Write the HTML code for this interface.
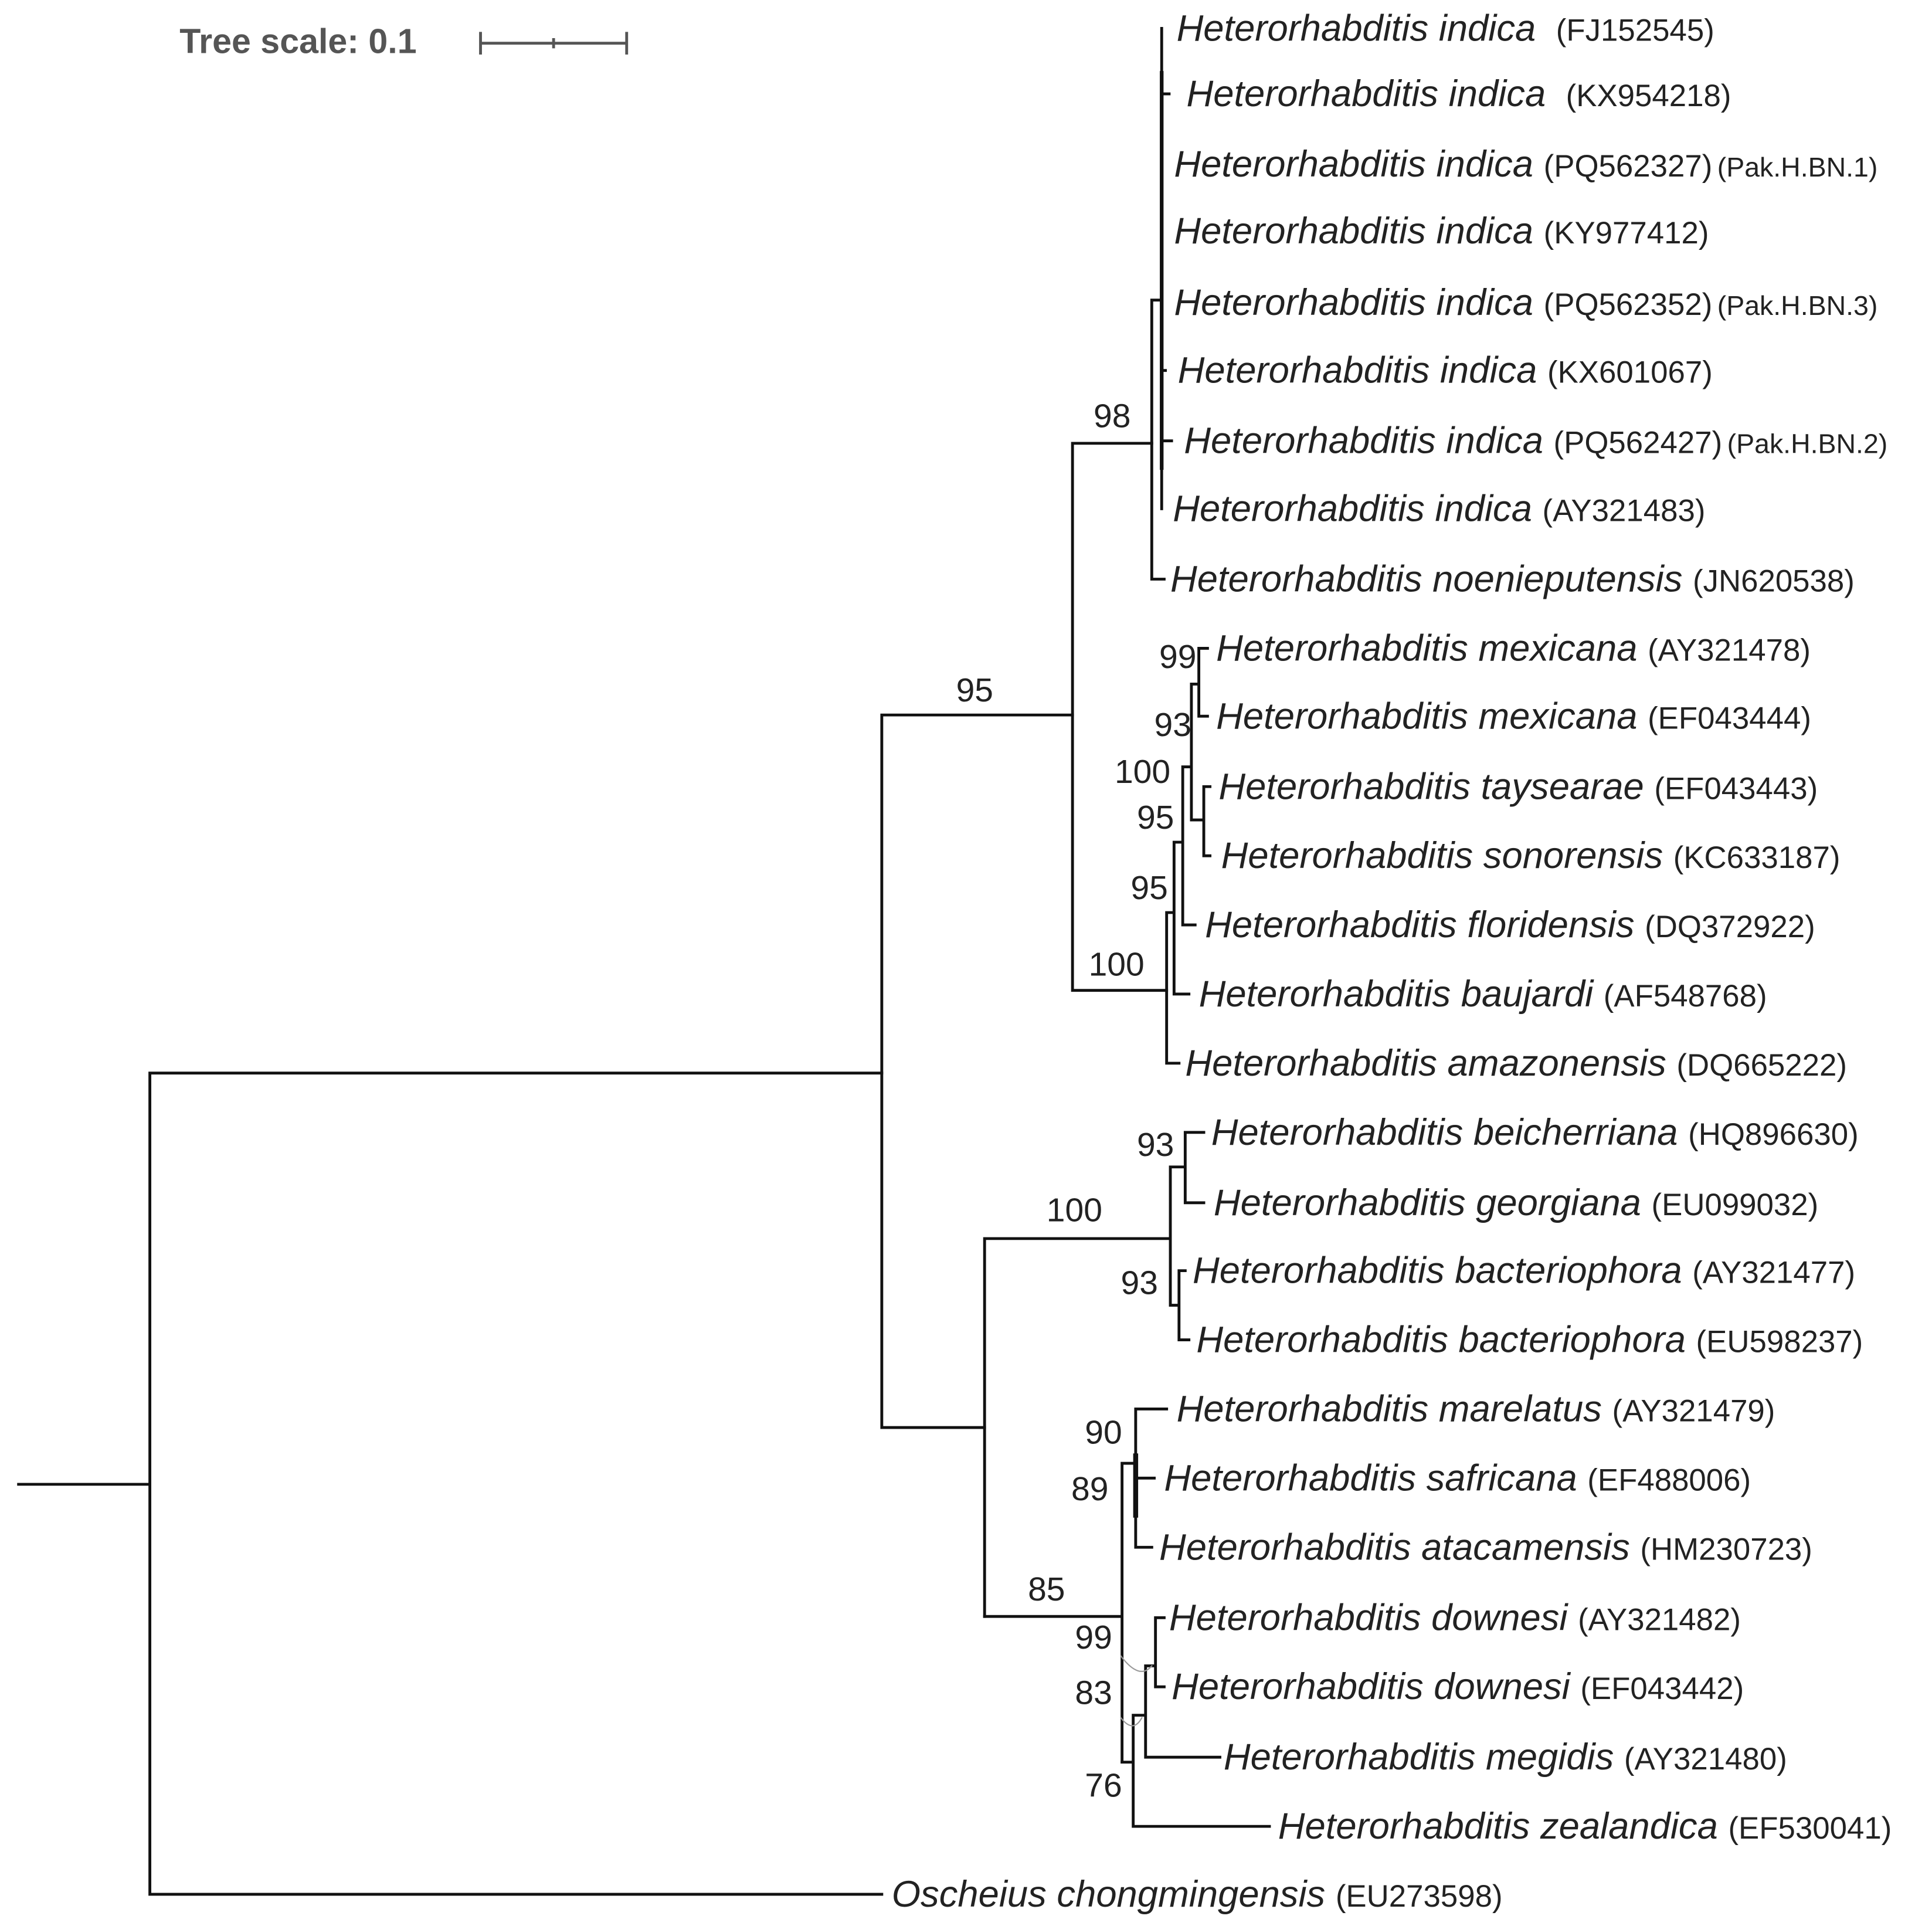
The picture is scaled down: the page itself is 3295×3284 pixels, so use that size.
<!DOCTYPE html>
<html><head><meta charset="utf-8"><style>
html,body{margin:0;padding:0;background:#fff;}
svg{display:block;}
text{font-family:"Liberation Sans",sans-serif;fill:#222;}
.sp{font-style:italic;font-size:30px;}
.ac{font-size:25px;font-style:normal;}
.sm{font-size:22px;font-style:normal;}
.bs{font-size:27px;}
</style></head><body>
<svg width="3295" height="3284" viewBox="0 0 1560 1555" preserveAspectRatio="none" xmlns="http://www.w3.org/2000/svg">
<g transform="translate(0,-1) scale(1,0.997)">
<g stroke="#111" stroke-width="2.3" fill="none" stroke-linecap="square">
<path d="M15 1203H121 M121 870V1535 M121 870H712 M121 1535H712"/>
<path d="M712 580V1157 M712 580H866 M712 1157H795"/>
<path d="M866 360V803 M866 360H930 M866 803H942"/>
<path d="M930 244V470 M930 470H940 M930 244H938 M938 24V413"/>
<path d="M938 77H944 M938 358H946 M938 301H941" />
<path d="M938 60V380" stroke-width="3"/>
<path d="M942 740V862 M942 862H952 M942 740H948 M948 683V806 M948 806H960 M948 683H955 M955 622V750 M955 750H965 M955 622H962 M962 555V665 M962 555H968 M968 526V581 M968 526H975 M968 581H975 M962 665H972 M972 638V694 M972 638H977 M972 694H977"/>
<path d="M795 1004V1310 M795 1004H945 M945 946V1058 M945 946H957 M957 918V975 M957 918H972 M957 975H972 M945 1058H952 M952 1030V1086 M952 1030H957 M952 1086H960"/>
<path d="M795 1310H906 M906 1186V1428 M906 1186H917 M917 1142V1254 M917 1142H942 M917 1198H932 M917 1254H930 M917 1175V1230"/>
<path d="M917 1180V1228" stroke-width="4"/>
<path d="M906 1428H915 M915 1390V1480 M915 1480H1025 M915 1390H925 M925 1350V1424 M925 1424H985 M925 1350H933 M933 1311V1367 M933 1311H940 M933 1367H940"/>
<path d="M905 1342Q920 1362 930 1350 M905 1392Q915 1405 922 1392" stroke="#999" stroke-width="1"/>
<path d="M388 36H506 M388 28V44 M506 28V44 M447 33V39" stroke="#555"/>
</g>
<text x="145" y="44" style="font-size:28px;font-weight:bold;fill:#555">Tree scale: 0.1</text>
<text y="34" class="sp" x="950">Heterorhabditis indica <tspan class="ac" dx="8">(FJ152545)</tspan></text>
<text y="87" class="sp" x="958">Heterorhabditis indica <tspan class="ac" dx="8">(KX954218)</tspan></text>
<text y="144" class="sp" x="948">Heterorhabditis indica <tspan class="ac">(PQ562327)</tspan><tspan class="sm" dx="4">(Pak.H.BN.1)</tspan></text>
<text y="198" class="sp" x="948">Heterorhabditis indica <tspan class="ac">(KY977412)</tspan></text>
<text y="256" class="sp" x="948">Heterorhabditis indica <tspan class="ac">(PQ562352)</tspan><tspan class="sm" dx="4">(Pak.H.BN.3)</tspan></text>
<text y="311" class="sp" x="951">Heterorhabditis indica <tspan class="ac">(KX601067)</tspan></text>
<text y="368" class="sp" x="956">Heterorhabditis indica <tspan class="ac">(PQ562427)</tspan><tspan class="sm" dx="4">(Pak.H.BN.2)</tspan></text>
<text y="423" class="sp" x="947">Heterorhabditis indica <tspan class="ac">(AY321483)</tspan></text>
<text y="480" class="sp" x="945">Heterorhabditis noenieputensis <tspan class="ac">(JN620538)</tspan></text>
<text y="536" class="sp" x="982">Heterorhabditis mexicana <tspan class="ac">(AY321478)</tspan></text>
<text y="591" class="sp" x="982">Heterorhabditis mexicana <tspan class="ac">(EF043444)</tspan></text>
<text y="648" class="sp" x="984">Heterorhabditis taysearae <tspan class="ac">(EF043443)</tspan></text>
<text y="704" class="sp" x="986">Heterorhabditis sonorensis <tspan class="ac">(KC633187)</tspan></text>
<text y="760" class="sp" x="973">Heterorhabditis floridensis <tspan class="ac">(DQ372922)</tspan></text>
<text y="816" class="sp" x="968">Heterorhabditis baujardi <tspan class="ac">(AF548768)</tspan></text>
<text y="872" class="sp" x="957">Heterorhabditis amazonensis <tspan class="ac">(DQ665222)</tspan></text>
<text y="928" class="sp" x="978">Heterorhabditis beicherriana <tspan class="ac">(HQ896630)</tspan></text>
<text y="985" class="sp" x="980">Heterorhabditis georgiana <tspan class="ac">(EU099032)</tspan></text>
<text y="1040" class="sp" x="963">Heterorhabditis bacteriophora <tspan class="ac">(AY321477)</tspan></text>
<text y="1096" class="sp" x="966">Heterorhabditis bacteriophora <tspan class="ac">(EU598237)</tspan></text>
<text y="1152" class="sp" x="950">Heterorhabditis marelatus <tspan class="ac">(AY321479)</tspan></text>
<text y="1208" class="sp" x="940">Heterorhabditis safricana <tspan class="ac">(EF488006)</tspan></text>
<text y="1264" class="sp" x="936">Heterorhabditis atacamensis <tspan class="ac">(HM230723)</tspan></text>
<text y="1321" class="sp" x="944">Heterorhabditis downesi <tspan class="ac">(AY321482)</tspan></text>
<text y="1377" class="sp" x="946">Heterorhabditis downesi <tspan class="ac">(EF043442)</tspan></text>
<text y="1434" class="sp" x="988">Heterorhabditis megidis <tspan class="ac">(AY321480)</tspan></text>
<text y="1490" class="sp" x="1032">Heterorhabditis zealandica <tspan class="ac">(EF530041)</tspan></text>
<text y="1545" class="sp" x="720">Oscheius chongmingensis <tspan class="ac">(EU273598)</tspan></text>
<text class="bs" x="883" y="347">98</text>
<text class="bs" x="772" y="569">95</text>
<text class="bs" x="936" y="542">99</text>
<text class="bs" x="932" y="597">93</text>
<text class="bs" x="900" y="635">100</text>
<text class="bs" x="918" y="672">95</text>
<text class="bs" x="913" y="729">95</text>
<text class="bs" x="879" y="791">100</text>
<text class="bs" x="918" y="937">93</text>
<text class="bs" x="845" y="990">100</text>
<text class="bs" x="905" y="1049">93</text>
<text class="bs" x="876" y="1170">90</text>
<text class="bs" x="865" y="1216">89</text>
<text class="bs" x="830" y="1297">85</text>
<text class="bs" x="868" y="1336">99</text>
<text class="bs" x="868" y="1381">83</text>
<text class="bs" x="876" y="1456">76</text>
</g>
</svg>
</body></html>
